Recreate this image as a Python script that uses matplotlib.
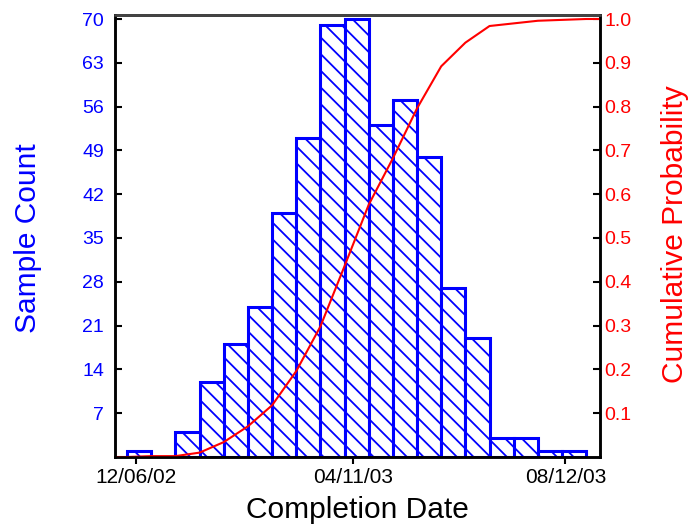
import numpy as np
import pandas as pd
import matplotlib
matplotlib.use('Agg')
import matplotlib.pyplot as plt
import matplotlib.dates as mdates

# two-week bins of completion dates
bin_start = '2002-12-01'
bin_days = 14
counts = [1, 0, 4, 12, 18, 24, 39, 51, 69, 70, 53, 57, 48, 27, 19, 3, 3, 1, 1]

x_range = ['2002-11-24', '2003-09-01']
tick_dates = ['2002-12-06', '2003-04-11', '2003-08-12']
count_ticks = [7, 14, 21, 28, 35, 42, 49, 56, 63, 70]
prob_ticks = [0.1, 0.2, 0.3, 0.4, 0.5, 0.6, 0.7, 0.8, 0.9, 1.0]

plt.rcParams['font.family'] = ['Liberation Sans', 'DejaVu Sans']
plt.rcParams['hatch.color'] = 'blue'
plt.rcParams['hatch.linewidth'] = 1.3


def main():
    edges = pd.date_range(bin_start, periods=len(counts) + 1, freq=f'{bin_days}D')
    edge_num = mdates.date2num(edges)
    xmin, xmax = mdates.date2num(pd.to_datetime(x_range))

    cum = np.concatenate([[0], np.cumsum(counts)]) / np.sum(counts)
    line_x = np.concatenate([[xmin], edge_num, [xmax]])
    line_y = np.concatenate([[0], cum, [1.0]])

    fig = plt.figure(figsize=(6.89, 5.30), dpi=100)
    ax = fig.add_axes([115 / 689, 73 / 530, 485 / 689, 442 / 530])

    ax.bar(edge_num[:-1], counts, width=bin_days, align='edge',
           facecolor='white', edgecolor='blue', linewidth=2.2, hatch='\\\\')
    ax.set_xlim(xmin, xmax)
    ax.set_ylim(0, 70 * 442 / 438)
    ax.set_yticks(count_ticks)
    ax.tick_params(axis='y', direction='in', length=5, width=1.5,
                   labelcolor='blue', labelsize=14, pad=8)
    ax.set_xticks(mdates.date2num(pd.to_datetime(tick_dates)))
    ax.xaxis.set_major_formatter(mdates.DateFormatter('%m/%d/%y'))
    ax.tick_params(axis='x', direction='out', length=5, width=1.5,
                   labelsize=15, pad=3)

    ax2 = ax.twinx()
    ax2.plot(line_x, line_y, color='red', linewidth=1.5)
    ax2.set_ylim(0, 442 / 438)
    ax2.set_yticks(prob_ticks)
    ax2.set_yticklabels([f'{v:.1f}' for v in prob_ticks])
    ax2.tick_params(axis='y', direction='in', length=5, width=1.5,
                    labelcolor='red', labelsize=14, pad=3)

    for a in (ax, ax2):
        for s in a.spines.values():
            s.set_linewidth(1.8)
            s.set_color('black')
    ax2.spines['top'].set_color('#444444')

    fig.text(28 / 689, 1 - 238 / 530, 'Sample Count', rotation=90,
             color='blue', fontsize=21.5, ha='center', va='center')
    fig.text(675 / 689, 1 - 234 / 530, 'Cumulative Probability', rotation=90,
             color='red', fontsize=21.5, ha='center', va='center')
    fig.text(357 / 689, 1 - 510 / 530, 'Completion Date',
             color='black', fontsize=21.5, ha='center', va='center')

    fig.savefig('out.png', dpi=100)


if __name__ == '__main__':
    main()
